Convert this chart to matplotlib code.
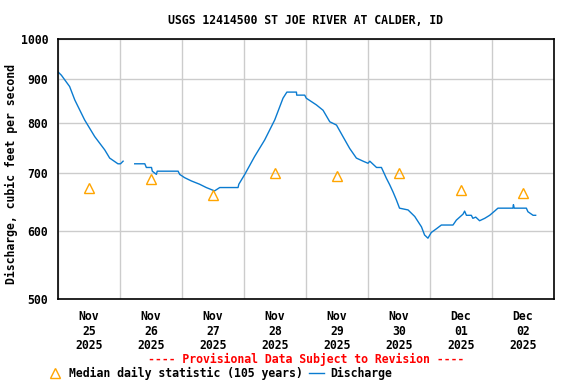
import numpy as np
import pandas as pd
import matplotlib
matplotlib.use("Agg")
import matplotlib.pyplot as plt
import matplotlib.dates as mdates
from matplotlib.lines import Line2D
from matplotlib.ticker import FixedLocator, NullLocator, FixedFormatter

# discharge readings: hours since 2025-11-25 00:00, cfs (NaN = gap)
hours = [0.0, 1.3, 4.5, 6.5, 10.3, 14.2, 18.1, 20.0, 23.2, 24.2, 25.2,
         27.0,
         29.7, 33.6, 34.2, 36.2, 36.5, 38.1, 38.4, 46.5, 47.1, 49.0, 51.6,
         54.8, 57.4, 60.6, 62.6, 69.7, 70.0, 72.3, 76.1, 80.0, 83.9, 87.1,
         88.6, 92.3, 92.4, 95.5, 96.1, 100.0, 102.6, 105.2, 107.8, 110.3,
         112.9, 115.5, 118.1, 120.0, 120.7, 123.3, 125.2, 127.1, 128.4,
         129.7, 131.0, 132.2, 135.5, 138.1, 140.7, 141.9, 143.2, 144.5,
         146.5, 148.4, 152.9, 154.2, 156.8, 157.4, 158.1, 160.0, 160.6,
         161.7, 163.2, 165.2, 167.1, 169.0, 170.3, 176.1, 176.3, 176.6,
         181.3, 181.9, 183.9, 184.9]
flow = [916, 908, 881, 850, 806, 771, 744, 728, 717, 717, 722,
        np.nan,
        717, 717, 710, 710, 703, 697, 703, 703, 697, 691, 685,
        679, 673, 667, 673, 673, 679, 697, 731, 764, 806, 854,
        868, 868, 861, 861, 854, 839, 827, 802, 795, 771,
        747, 728, 722, 718, 722, 710, 710, 690, 678,
        665, 651, 637, 634, 623, 606, 593, 588, 597,
        603, 609, 609, 617, 627, 632, 625, 625, 620,
        622, 616, 620, 625, 632, 637, 637, 643, 637,
        637, 631, 625, 625]

# median daily statistic at noon of each day
median_days = ["2025-11-25", "2025-11-26", "2025-11-27", "2025-11-28",
               "2025-11-29", "2025-11-30", "2025-12-01", "2025-12-02"]
median_vals = [672, 688, 660, 699, 694, 699, 668, 664]

y_ticks = [500, 600, 700, 800, 900, 1000]

start = pd.Timestamp("2025-11-25")
t = [start + pd.Timedelta(hours=h) for h in hours]
t_med = [pd.Timestamp(d) + pd.Timedelta(hours=12) for d in median_days]

plt.rcParams['font.family'] = 'DejaVu Sans Mono'
plt.rcParams['font.weight'] = 'bold'
plt.rcParams['axes.labelweight'] = 'bold'
plt.rcParams['font.size'] = 8.3

blue = '#0a7bd0'
orange = '#ffa500'

fig = plt.figure(figsize=(5.76, 3.84), dpi=100)
ax = fig.add_axes([58/576, 1 - 299/384, 496/576, 260/384])

ax.plot(t, flow, color=blue, lw=1.0)
ax.plot(t_med, median_vals, linestyle='none', marker='^', ms=7,
        markerfacecolor='none', markeredgecolor=orange, markeredgewidth=1.0)

ax.set_yscale('log')
ax.set_ylim(500, 1000)
ax.yaxis.set_major_locator(FixedLocator(y_ticks))
ax.yaxis.set_major_formatter(FixedFormatter([str(v) for v in y_ticks]))
ax.yaxis.set_minor_locator(NullLocator())

ax.set_xlim(start, start + pd.Timedelta(days=8))
ax.xaxis.set_major_locator(mdates.HourLocator(byhour=12))
ax.xaxis.set_major_formatter(mdates.DateFormatter('%b\n%d\n%Y'))
ax.xaxis.set_minor_locator(mdates.DayLocator())

ax.tick_params(axis='both', which='both', length=0)
ax.tick_params(axis='y', pad=7)
ax.tick_params(axis='x', pad=8)
for lab in ax.get_xticklabels():
    lab.set_linespacing(1.15)

ax.grid(True, which='minor', axis='x', color='#cccccc', lw=1)
ax.grid(True, which='major', axis='y', color='#cccccc', lw=1)
ax.set_axisbelow(True)
for s in ax.spines.values():
    s.set_linewidth(1.2)

ax.set_ylabel('Discharge, cubic feet per second')
ax.yaxis.set_label_coords(-0.081, 0.479)

fig.text(306/576, 1 - 20/384, 'USGS 12414500 ST JOE RIVER AT CALDER, ID',
         ha='center', va='center')
fig.text(306/576, 1 - 359/384, '---- Provisional Data Subject to Revision ----',
         ha='center', va='center', color='red')

handles = [Line2D([], [], linestyle='none', marker='^', ms=7,
                  markerfacecolor='none', markeredgecolor=orange,
                  markeredgewidth=1.0),
           Line2D([], [], color=blue, lw=1.0)]
fig.legend(handles, ['Median daily statistic (105 years)', 'Discharge'],
           loc='center left', bbox_to_anchor=(42/576, 1 - 373/384),
           ncol=2, frameon=False, borderpad=0, handlelength=1.3,
           handletextpad=0.5, columnspacing=0.6)

fig.savefig('out.png', dpi=100)
